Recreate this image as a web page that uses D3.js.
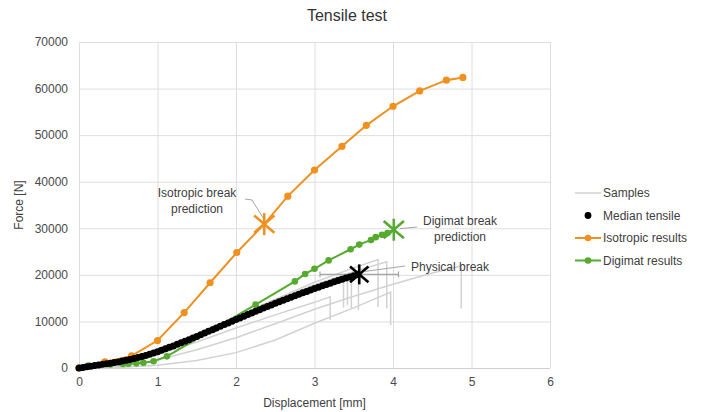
<!DOCTYPE html>
<html>
<head>
<meta charset="utf-8">
<script src="https://cdn.jsdelivr.net/npm/d3@7"></script>
<style>
  html, body { margin: 0; padding: 0; background: #fff; }
  svg { display: block; font-family: "Liberation Sans", Arial, sans-serif; }
</style>
</head>
<body>
<svg id="chart" width="710" height="412"></svg>
<script>
// ---------- DATA ----------
const xTicks = [0, 1, 2, 3, 4, 5, 6];
const yTicks = [0, 10000, 20000, 30000, 40000, 50000, 60000, 70000];

// Median tensile curve [mm, N]
const medianX = [0.00,0.05,0.10,0.15,0.20,0.25,0.30,0.35,0.40,0.45,0.50,0.55,0.60,0.65,0.70,0.75,0.80,0.85,0.90,0.95,
  1.00,1.05,1.10,1.15,1.20,1.25,1.30,1.35,1.40,1.45,1.50,1.55,1.60,1.65,1.70,1.75,1.80,1.85,1.90,1.95,
  2.00,2.05,2.10,2.15,2.20,2.25,2.30,2.35,2.40,2.45,2.50,2.55,2.60,2.65,2.70,2.75,2.80,2.85,2.90,2.95,
  3.00,3.05,3.10,3.15,3.20,3.25,3.30,3.35,3.40,3.45,3.50,3.55];
const medianY = [0,130,260,390,520,650,780,910,1040,1170,1300,1480,1660,1850,2050,2260,2480,2710,2960,3220,
  3500,3800,4110,4430,4750,5080,5410,5750,6090,6440,6790,7150,7510,7870,8230,8600,8960,9320,9680,10040,
  10400,10760,11120,11470,11820,12170,12520,12860,13200,13540,13880,14210,14540,14870,15190,15510,15830,16140,16450,16760,
  17060,17360,17650,17940,18220,18500,18770,19040,19300,19560,19810,20060];

// Isotropic results
const isoX = [0, 0.33, 0.67, 1.00, 1.34, 1.67, 2.01, 2.36, 2.66, 3.00, 3.35, 3.66, 4.00, 4.34, 4.68, 4.89];
const isoY = [0, 1300, 2600, 5900, 11900, 18300, 24800, 30900, 36900, 42500, 47600, 52100, 56200, 59500, 61800, 62400];

// Digimat results
const digX = [0, 0.12, 0.25, 0.40, 0.56, 0.63, 0.73, 0.82, 0.95, 1.12, 1.72, 2.25, 2.75, 2.88, 3.00, 3.18, 3.46, 3.57, 3.72, 3.78, 3.86, 3.93];
const digY = [0, 500, 650, 750, 850, 900, 1000, 1150, 1450, 2500, 8400, 13600, 18600, 20200, 21300, 23100, 25500, 26500, 27500, 28100, 28600, 29000];

// Break points
const isoBreak = [2.36, 30900];
const digBreak = [4.01, 29700];
const physBreak = [3.57, 20100];
const physBreakErr = [3.07, 4.07];

// Samples (each: x list, y list; last point = drop after break)
const s1X = [0, 0.5, 1.0, 1.5, 2.0, 2.5, 3.0, 3.2, 3.2];
const s1Y = [0, 1100, 2900, 5600, 8600, 11400, 14100, 15300, 10300];
const s2X = [0, 0.5, 1.0, 1.5, 2.0, 2.5, 3.0, 3.37, 3.37];
const s2Y = [0, 1200, 3300, 6500, 10000, 13400, 16500, 18600, 13000];
const s3X = [0, 0.5, 1.0, 1.5, 2.0, 2.5, 3.0, 3.42, 3.42];
const s3Y = [0, 1400, 3700, 7000, 10600, 14000, 17100, 19300, 13500];
const s4X = [0, 0.5, 1.0, 1.5, 2.0, 2.5, 3.0, 3.47, 3.47];
const s4Y = [0, 1250, 3400, 6700, 10300, 13800, 17000, 19600, 12800];
const s5X = [0, 0.5, 1.0, 1.5, 2.0, 2.5, 3.0, 3.56, 3.56];
const s5Y = [0, 1300, 3500, 6800, 10400, 13900, 17100, 20300, 12400];
const s6X = [0, 0.5, 1.0, 1.5, 2.0, 2.5, 3.0, 3.5, 3.81, 3.81];
const s6Y = [0, 1350, 3700, 7100, 11000, 14800, 18400, 21500, 23300, 13100];
const s7X = [0, 0.5, 1.0, 1.5, 2.0, 2.5, 3.0, 3.5, 3.92, 3.92];
const s7Y = [0, 1300, 3600, 7000, 10800, 14500, 17900, 20700, 22800, 12800];
const s8X = [0, 0.5, 1.0, 1.5, 2.0, 2.5, 3.0, 3.5, 4.0, 4.5, 4.87, 4.87];
const s8Y = [0, 300, 1700, 3900, 6500, 9500, 12600, 15400, 18000, 20400, 21900, 12800];
const s9X = [0, 0.5, 1.0, 1.5, 2.0, 2.5, 3.0, 3.5, 3.97, 3.97];
const s9Y = [0, 100, 600, 1600, 3300, 6000, 9600, 12900, 16300, 9200];

const legendLabels = ["Samples", "Median tensile", "Isotropic results", "Digimat results"];

// ---------- DRAWING ----------
const zip = (xs, ys) => xs.map((v, i) => [v, ys[i]]);
const svg = d3.select("#chart");
const pLeft = 79, pRight = 550, pTop = 42, pBottom = 368;
const x = d3.scaleLinear().domain([0, 6]).range([pLeft, pRight]);
const y = d3.scaleLinear().domain([0, 70000]).range([pBottom, pTop]);

const ORANGE = "#f0901e", GREEN = "#55aa2f", GRAY = "#d2d2d2", TXT = "#4a4a4a";

// gridlines + tick labels via axes
const gx = svg.append("g").attr("transform", `translate(0,${pBottom})`)
  .call(d3.axisBottom(x).tickValues(xTicks).tickSize(-(pBottom - pTop)).tickPadding(9).tickFormat(d3.format("d")));
const gy = svg.append("g").attr("transform", `translate(${pLeft},0)`)
  .call(d3.axisLeft(y).tickValues(yTicks).tickSize(-(pRight - pLeft)).tickPadding(11).tickFormat(d3.format("d")));
[gx, gy].forEach(g => {
  g.select(".domain").remove();
  g.selectAll(".tick line").attr("stroke", "#dedede").attr("stroke-width", 1);
  g.selectAll(".tick text").attr("fill", TXT).attr("font-size", 12)
    .attr("font-family", '"Liberation Sans", Arial, sans-serif');
});
gy.selectAll(".tick").filter(d => d === 0).select("line").attr("stroke", "#cfcfcf");

const line = d3.line().x(d => x(d[0])).y(d => y(d[1]));

// samples
const samples = [[s1X,s1Y],[s2X,s2Y],[s3X,s3Y],[s4X,s4Y],[s5X,s5Y],[s6X,s6Y],[s7X,s7Y],[s8X,s8Y],[s9X,s9Y]];
svg.append("g").selectAll("path").data(samples).join("path")
  .attr("d", d => line(zip(d[0], d[1])))
  .attr("fill", "none").attr("stroke", GRAY).attr("stroke-width", 1.5);

// error bar for physical break
const eb = svg.append("g").attr("stroke", "#a6a6a6").attr("stroke-width", 1.2);
eb.append("line").attr("x1", x(physBreakErr[0])).attr("x2", x(physBreakErr[1]))
  .attr("y1", y(physBreak[1])).attr("y2", y(physBreak[1]));
physBreakErr.forEach(v => eb.append("line").attr("x1", x(v)).attr("x2", x(v))
  .attr("y1", y(physBreak[1]) - 3).attr("y2", y(physBreak[1]) + 3));

// leader lines
const leader = svg.append("g").attr("fill", "none").attr("stroke", "#a6a6a6").attr("stroke-width", 1);
leader.append("path").attr("d", `M245,199 L252,200 L${x(isoBreak[0]) - 1},${y(isoBreak[1]) - 6}`);
leader.append("path").attr("d", `M417,227 L${x(digBreak[0]) + 6},${y(digBreak[1]) - 1}`);
leader.append("path").attr("d", `M405,266 L${x(physBreak[0]) + 6},${y(physBreak[1]) - 3}`);

// Isotropic
svg.append("path").attr("d", line(zip(isoX, isoY))).attr("fill", "none").attr("stroke", ORANGE).attr("stroke-width", 2);
svg.append("g").selectAll("circle").data(zip(isoX, isoY).filter(d => d[0] !== isoBreak[0])).join("circle")
  .attr("cx", d => x(d[0])).attr("cy", d => y(d[1])).attr("r", 3.6).attr("fill", ORANGE);

// Digimat
svg.append("path").attr("d", line(zip(digX, digY).concat([digBreak]))).attr("fill", "none").attr("stroke", GREEN).attr("stroke-width", 2);
svg.append("g").selectAll("circle").data(zip(digX, digY)).join("circle")
  .attr("cx", d => x(d[0])).attr("cy", d => y(d[1])).attr("r", 3.3).attr("fill", GREEN);

// Median
svg.append("g").selectAll("circle").data(zip(medianX, medianY)).join("circle")
  .attr("cx", d => x(d[0])).attr("cy", d => y(d[1])).attr("r", 3.5).attr("fill", "#000");

// asterisk markers
function star(pt, color, size) {
  const cx = x(pt[0]), cy = y(pt[1]);
  const g = svg.append("g").attr("stroke", color).attr("stroke-width", 2.6).attr("stroke-linecap", "butt");
  g.append("line").attr("x1", cx).attr("x2", cx).attr("y1", cy - size).attr("y2", cy + size);
  const d = size * 0.92;
  g.append("line").attr("x1", cx - d).attr("x2", cx + d).attr("y1", cy - d * 0.85).attr("y2", cy + d * 0.85);
  g.append("line").attr("x1", cx - d).attr("x2", cx + d).attr("y1", cy + d * 0.85).attr("y2", cy - d * 0.85);
}
star(isoBreak, ORANGE, 11);
star(digBreak, GREEN, 11);
star(physBreak, "#000", 10);

// annotation texts
const ann = svg.append("g").attr("fill", "#404040").attr("font-size", 12).attr("text-anchor", "middle");
ann.append("text").attr("x", 197).attr("y", 196.5).text("Isotropic break");
ann.append("text").attr("x", 197).attr("y", 212.5).text("prediction");
ann.append("text").attr("x", 460).attr("y", 225).text("Digimat break");
ann.append("text").attr("x", 460).attr("y", 240.5).text("prediction");
ann.append("text").attr("x", 450).attr("y", 271).text("Physical break");

// title & axis titles
svg.append("text").attr("x", 347).attr("y", 21).attr("text-anchor", "middle")
  .attr("font-size", 16).attr("fill", "#333").text("Tensile test");
svg.append("text").attr("x", (pLeft + pRight) / 2).attr("y", 407).attr("text-anchor", "middle")
  .attr("font-size", 12).attr("fill", "#404040").text("Displacement [mm]");
svg.append("text").attr("transform", `translate(23,${(pTop + pBottom) / 2}) rotate(-90)`).attr("text-anchor", "middle")
  .attr("font-size", 12).attr("fill", "#404040").text("Force [N]");

// legend
const lg = svg.append("g").attr("font-size", 12).attr("fill", "#404040");
const ly = [193, 215.5, 238, 260.5];
legendLabels.forEach((t, i) => {
  const yy = ly[i];
  if (i === 0) lg.append("line").attr("x1", 575).attr("x2", 601).attr("y1", yy).attr("y2", yy).attr("stroke", GRAY).attr("stroke-width", 1.5);
  if (i === 1) lg.append("circle").attr("cx", 588).attr("cy", yy).attr("r", 3.4).attr("fill", "#000");
  if (i === 2 || i === 3) {
    const c = i === 2 ? ORANGE : GREEN;
    lg.append("line").attr("x1", 575).attr("x2", 601).attr("y1", yy).attr("y2", yy).attr("stroke", c).attr("stroke-width", 2);
    lg.append("circle").attr("cx", 588).attr("cy", yy).attr("r", 3.3).attr("fill", c);
  }
  lg.append("text").attr("x", 603).attr("y", yy + 4.2).text(t);
});
</script>
</body>
</html>
